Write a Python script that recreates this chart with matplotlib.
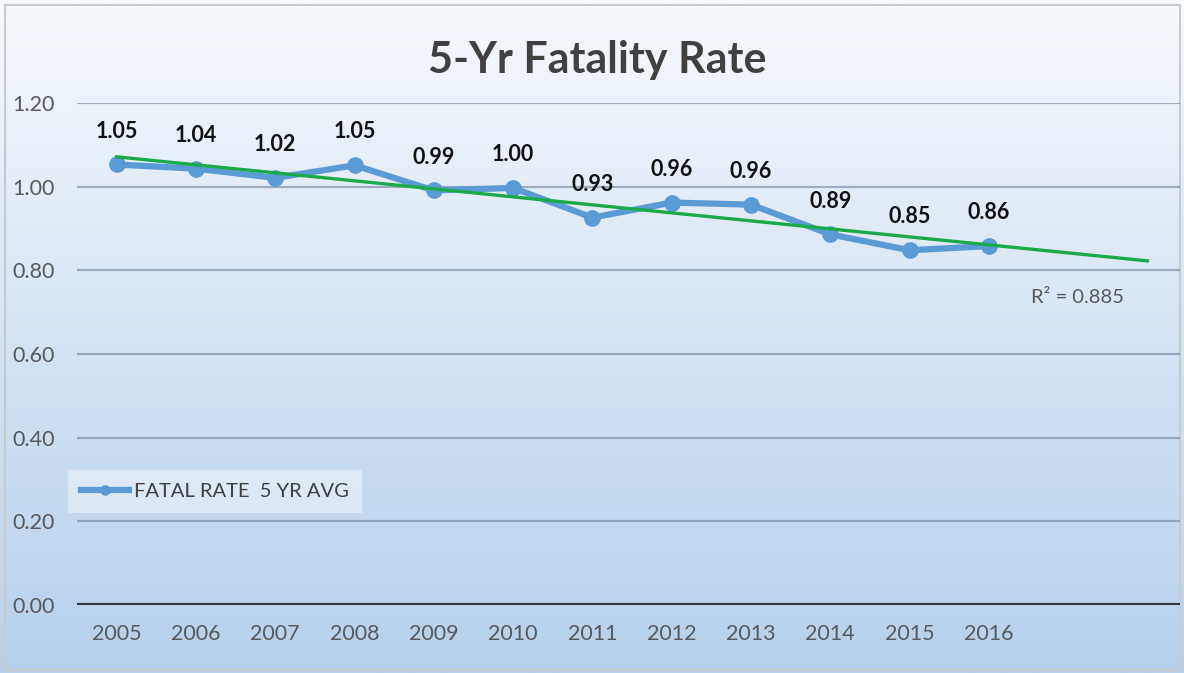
import numpy as np
import matplotlib.pyplot as plt
from matplotlib.patches import Rectangle

# data
years = ['2005', '2006', '2007', '2008', '2009', '2010',
         '2011', '2012', '2013', '2014', '2015', '2016']
fatal_rate = [1.053, 1.043, 1.021, 1.051, 0.991, 0.997,
              0.926, 0.962, 0.957, 0.886, 0.848, 0.858]
r2_text = 'R² = 0.885'
forward_periods = 2

plt.rcParams['font.family'] = ['Lato', 'DejaVu Sans']

fig = plt.figure(figsize=(11.84, 6.73), dpi=100)

# gradient background for the whole chart area
bg = fig.add_axes([0, 0, 1, 1], zorder=0)
top = np.array([246, 249, 253]) / 255
bottom = np.array([182, 208, 234]) / 255
t = np.linspace(0, 1, 256)[:, None, None]
grad = top * (1 - t) + bottom * t
grad = np.repeat(grad, 2, axis=1)
bg.imshow(grad, aspect='auto', extent=[0, 1, 0, 1], origin='upper')
bg.add_patch(Rectangle((5 / 1184, 3 / 673), 1175 / 1184, 665 / 673,
                       fill=False, edgecolor='#c8cacc', lw=1.5))
bg.set_xlim(0, 1)
bg.set_ylim(0, 1)
bg.axis('off')

ax = fig.add_axes([77 / 1184, 68 / 673, 1103 / 1184, 502 / 673], zorder=1)
ax.patch.set_alpha(0)

x = np.arange(len(years))
ax.plot(x, fatal_rate, color='#5b9bd5', lw=4.5, marker='o', ms=11,
        solid_joinstyle='round', label='FATAL RATE  5 YR AVG', zorder=3)

# linear trendline, extended forward
coef = np.polyfit(x, fatal_rate, 1)
xt = np.array([0, len(years) - 1 + forward_periods])
ax.plot(xt, np.polyval(coef, xt), color='#1aaa4a', lw=2.4, zorder=4)
ax.text(12.12, 0.736, r2_text, ha='center', va='center', fontsize=14.5, color='#595959')

for xi, v in zip(x, fatal_rate):
    ax.annotate(f'{v:.2f}', (xi, v), xytext=(0, 24), textcoords='offset points',
                ha='center', va='center', fontsize=15.5, fontweight='bold', color='#111111')

ax.set_xlim(-0.5, 13.41)
ax.set_ylim(0, 1.2)
ax.set_yticks(np.arange(0, 1.21, 0.2))
ax.set_yticklabels([f'{v:.2f}' for v in np.arange(0, 1.21, 0.2)])
ax.set_xticks(x)
ax.set_xticklabels(years)
ax.tick_params(length=0, labelsize=15.5, colors='#595959')
ax.xaxis.set_tick_params(pad=14)
ax.yaxis.set_tick_params(pad=16)

ax.grid(axis='y', color='#6f8299', alpha=0.6, lw=1.6)
ax.axhline(0, color='#333a42', lw=3, zorder=2)
for s in ax.spines.values():
    s.set_visible(False)

fig.text(597 / 1184, 1 - 60 / 673, '5-Yr Fatality Rate', ha='center', va='center',
         fontsize=31, fontweight='bold', color='#404040')

leg = ax.legend(loc='upper left', bbox_to_anchor=(68 / 1184, 1 - 470 / 673),
                bbox_transform=fig.transFigure, borderaxespad=0, fontsize=14.5,
                frameon=True, fancybox=False, handlelength=2.4, handletextpad=0.25,
                markerscale=0.6, labelcolor='#404040', borderpad=0.65)
leg.get_frame().set_facecolor('#ffffff')
leg.get_frame().set_alpha(0.4)
leg.get_frame().set_edgecolor('none')

fig.savefig('out.png', dpi=100)
